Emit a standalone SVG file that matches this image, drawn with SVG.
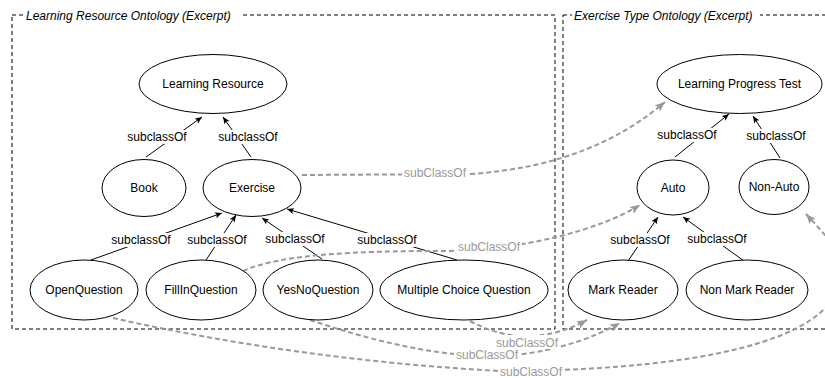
<svg xmlns="http://www.w3.org/2000/svg" width="825" height="378" viewBox="0 0 825 378">
<defs>
<style>
text{font-family:"Liberation Sans",Arial,Helvetica,sans-serif;font-size:12px;text-anchor:middle;fill:#000}
.title{font-style:italic;text-anchor:start}
.box{fill:none;stroke:#000;stroke-width:1;stroke-dasharray:4 3}
.node{fill:#fff;stroke:#000;stroke-width:1}
.sub{stroke:#000;stroke-width:1;fill:none;marker-end:url(#ab)}
.ref{stroke:#999;stroke-width:2;fill:none;stroke-dasharray:5 3;marker-end:url(#ag)}
.bg{fill:#fff}
.gl{fill:#999}
</style>
<marker id="ab" markerUnits="userSpaceOnUse" markerWidth="8" markerHeight="7" refX="7" refY="3" orient="auto">
<path d="M0,0 L7,3 L0,6 L1.5,3 z" fill="#000"/>
</marker>
<marker id="ag" markerUnits="userSpaceOnUse" markerWidth="11" markerHeight="9" refX="10" refY="4" orient="auto">
<path d="M0,0 L10,4 L0,8 L2,4 z" fill="#999"/>
</marker>
</defs>
<rect width="825" height="378" fill="#fff"/>
<g id="box-learning-resource">
<rect class="box" x="12" y="15" width="543" height="314"/>
<rect class="bg" x="24" y="8" width="216" height="14"/>
<text class="title" x="26" y="19.5">Learning Resource Ontology (Excerpt)</text>
</g>
<g id="box-exercise-type">
<rect class="box" x="563" y="15" width="275" height="314"/>
<rect class="bg" x="572" y="8" width="188" height="14"/>
<text class="title" x="574" y="19.5">Exercise Type Ontology (Excerpt)</text>
</g>
<g id="connectors">
<line class="sub" x1="146" y1="157" x2="202" y2="117"/>
<line class="sub" x1="251" y1="157" x2="223" y2="117"/>
<line class="sub" x1="91" y1="260" x2="222" y2="213"/>
<line class="sub" x1="206" y1="260" x2="236" y2="215"/>
<line class="sub" x1="322" y1="259" x2="262" y2="218"/>
<line class="sub" x1="457" y1="260" x2="287" y2="209"/>
<line class="sub" x1="675" y1="157" x2="729" y2="114"/>
<line class="sub" x1="780" y1="158" x2="753" y2="116"/>
<line class="sub" x1="628" y1="261" x2="658" y2="217"/>
<line class="sub" x1="744" y1="261" x2="683" y2="217"/>
<path class="ref" d="M302 175 L470 174 C560 168 620 140 665 102"/>
<path class="ref" d="M243 271 C280 254 360 251 440 251 C520 251 600 230 640 205"/>
<path class="ref" d="M470 321 Q527 352 587 320"/>
<path class="ref" d="M310 320 C370 340 430 355 487 356 C540 357 590 340 620 323"/>
<path class="ref" d="M113 318 Q300 360 500 371 L560 370 C720 364 845 335 840 270 C838 245 822 232 806 214"/>
<g id="labels">
<rect class="bg" x="126" y="130" width="62" height="14"/><text x="157" y="141">subclassOf</text>
<rect class="bg" x="217" y="130" width="62" height="14"/><text x="248" y="141">subclassOf</text>
<rect class="bg" x="110" y="233" width="62" height="14"/><text x="141" y="244">subclassOf</text>
<rect class="bg" x="186" y="233" width="62" height="14"/><text x="217" y="244">subclassOf</text>
<rect class="bg" x="264" y="232" width="62" height="14"/><text x="295" y="243">subclassOf</text>
<rect class="bg" x="356" y="233" width="62" height="14"/><text x="387" y="244">subclassOf</text>
<rect class="bg" x="656" y="128" width="62" height="14"/><text x="687" y="139">subclassOf</text>
<rect class="bg" x="745" y="129" width="62" height="14"/><text x="776" y="140">subclassOf</text>
<rect class="bg" x="609" y="233" width="62" height="14"/><text x="640" y="244">subclassOf</text>
<rect class="bg" x="686" y="232" width="62" height="14"/><text x="717" y="243">subclassOf</text>
<rect class="bg" x="402" y="166" width="66" height="14"/><text class="gl" x="435" y="177">subClassOf</text>
<rect class="bg" x="456" y="240" width="66" height="14"/><text class="gl" x="489" y="251">subClassOf</text>
<rect class="bg" x="494" y="335" width="66" height="14"/><text class="gl" x="527" y="346.5">subClassOf</text>
<rect class="bg" x="454" y="348" width="66" height="14"/><text class="gl" x="487" y="359">subClassOf</text>
<rect class="bg" x="498" y="364" width="66" height="14"/><text class="gl" x="531" y="375.5">subClassOf</text>
</g>
</g>
<g id="node-learning-resource"><ellipse class="node" cx="213" cy="84" rx="74" ry="29.5"/><text x="213" y="88">Learning Resource</text></g>
<g id="node-book"><ellipse class="node" cx="144" cy="188" rx="42" ry="28.5"/><text x="144" y="192">Book</text></g>
<g id="node-exercise"><ellipse class="node" cx="252" cy="188" rx="49" ry="28.5"/><text x="252" y="192">Exercise</text></g>
<g id="node-openquestion"><ellipse class="node" cx="84" cy="290" rx="54" ry="30"/><text x="84" y="294">OpenQuestion</text></g>
<g id="node-fillinquestion"><ellipse class="node" cx="201" cy="290" rx="55" ry="30"/><text x="201" y="294">FillInQuestion</text></g>
<g id="node-yesnoquestion"><ellipse class="node" cx="318" cy="290" rx="55" ry="30"/><text x="318" y="294">YesNoQuestion</text></g>
<g id="node-multiple-choice"><ellipse class="node" cx="464" cy="290" rx="84" ry="30"/><text x="464" y="294">Multiple Choice Question</text></g>
<g id="node-learning-progress-test"><ellipse class="node" cx="739.5" cy="84" rx="82.5" ry="29.5"/><text x="739.5" y="88">Learning Progress Test</text></g>
<g id="node-auto"><ellipse class="node" cx="673" cy="187.5" rx="36" ry="27.5"/><text x="673" y="191.5">Auto</text></g>
<g id="node-non-auto"><ellipse class="node" cx="774" cy="187" rx="35" ry="27.5"/><text x="774" y="191">Non-Auto</text></g>
<g id="node-mark-reader"><ellipse class="node" cx="623" cy="290" rx="55" ry="30"/><text x="623" y="294">Mark Reader</text></g>
<g id="node-non-mark-reader"><ellipse class="node" cx="747" cy="290" rx="61" ry="30"/><text x="747" y="294">Non Mark Reader</text></g>
</svg>
